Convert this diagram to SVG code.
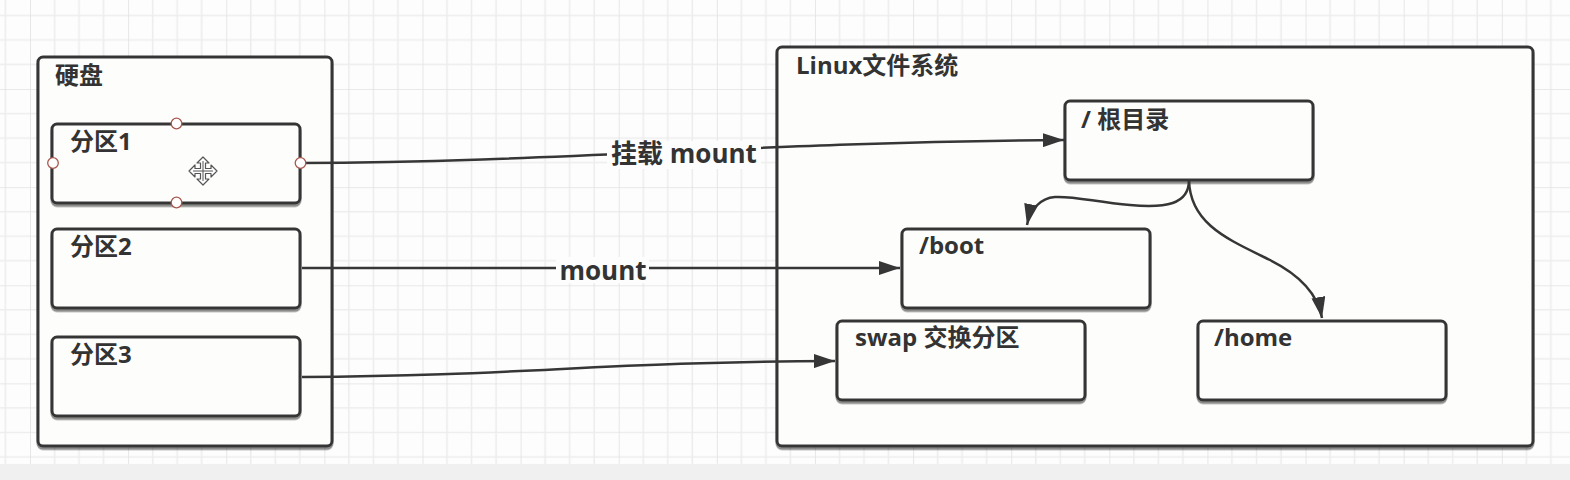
<svg xmlns="http://www.w3.org/2000/svg" width="1570" height="480" viewBox="0 0 1570 480">
<defs>
<style>
.box{fill:#fdfefc;stroke:#363636;stroke-width:3;filter:url(#sh)}
.t{font-family:"Open Sans","Noto Sans CJK SC",sans-serif;font-weight:bold;font-size:24px;fill:#333}
.lbl{font-family:"Open Sans","Noto Sans CJK SC",sans-serif;font-weight:bold;font-size:26px;fill:#333;text-anchor:middle}
.c{fill:none;stroke:#363636;stroke-width:2.5}
.h{fill:#fff;stroke:#a8584f;stroke-width:1.3}
</style>
<filter id="sh" x="-5%" y="-5%" width="110%" height="115%">
<feDropShadow dx="0" dy="2.5" stdDeviation="0.6" flood-color="#000" flood-opacity="0.45"/>
</filter>
<pattern id="grid" x="30" y="-9.1" width="98.12" height="98.12" patternUnits="userSpaceOnUse">
<path d="M24.53,0V98.12M49.06,0V98.12M73.59,0V98.12M0,24.53H98.12M0,49.06H98.12M0,73.59H98.12" stroke="#ededed" stroke-width="1.6" fill="none"/>
<path d="M0,0V98.12M0,0H98.12" stroke="#e2e2e2" stroke-width="1.6" fill="none"/>
</pattern>
<marker id="arr" markerUnits="userSpaceOnUse" viewBox="0 0 21 14" refX="21" refY="7" markerWidth="21" markerHeight="14" orient="auto">
<path d="M0,0L21,7L0,14z" fill="#363636"/>
</marker>
</defs>
<rect width="1570" height="480" fill="#fdfdfd"/>
<rect width="1570" height="464" fill="url(#grid)"/>
<rect y="464" width="1570" height="16" fill="#f0f0f0"/>

<g id="disk">
<rect class="box" x="38" y="57" width="294" height="389" rx="5"/>
<text class="t" x="55" y="84">硬盘</text>
</g>
<g id="linuxfs">
<rect class="box" x="777" y="47" width="756" height="399" rx="5"/>
<text class="t" x="796" y="74">Linux文件系统</text>
</g>
<g id="part1">
<rect class="box" x="52" y="124" width="248" height="79" rx="5"/>
<text class="t" x="70" y="150">分区1</text>
</g>
<g id="part2">
<rect class="box" x="52" y="229" width="248" height="79" rx="5"/>
<text class="t" x="70" y="255">分区2</text>
</g>
<g id="part3">
<rect class="box" x="52" y="337" width="248" height="79" rx="5"/>
<text class="t" x="70" y="363">分区3</text>
</g>
<g id="root">
<rect class="box" x="1065" y="101" width="248" height="79" rx="5"/>
<text class="t" x="1081" y="128">/ 根目录</text>
</g>
<g id="boot">
<rect class="box" x="902" y="229" width="248" height="79" rx="5"/>
<text class="t" x="919" y="254">/boot</text>
</g>
<g id="swap">
<rect class="box" x="837" y="321" width="248" height="79" rx="5"/>
<text class="t" x="855" y="346">swap 交换分区</text>
</g>
<g id="home">
<rect class="box" x="1198" y="321" width="248" height="79" rx="5"/>
<text class="t" x="1214" y="346">/home</text>
</g>

<g id="connectors">
<path class="c" d="M300,163 C560,162 760,142 1064,140" marker-end="url(#arr)"/>
<rect x="607" y="141" width="154" height="28" fill="#fdfdfd"/>
<text class="lbl" x="684" y="163">挂载 mount</text>
<path class="c" d="M302,268 L900,268" marker-end="url(#arr)"/>
<rect x="556" y="257" width="93" height="26" fill="#fdfdfd"/>
<text class="lbl" x="603" y="280">mount</text>
<path class="c" d="M302,377 C520,376 600,362 835,361" marker-end="url(#arr)"/>
<path class="c" d="M1189,180 C1189,205 1165,208 1130,205 C1095,202 1075,196 1055,197 C1040,198 1030,210 1027,225" marker-end="url(#arr)"/>
<path class="c" d="M1189,180 C1190,225 1230,240 1270,260 C1300,275 1318,295 1322,318" marker-end="url(#arr)"/>
</g>

<g id="selection">
<circle class="h" cx="176.5" cy="123.5" r="5.3"/>
<circle class="h" cx="176.5" cy="202.5" r="5.3"/>
<circle class="h" cx="53" cy="163" r="5.3"/>
<circle class="h" cx="300.5" cy="163" r="5.3"/>
<path d="M203,157 L209,163 L205.5,163 L205.5,168.5 L211,168.5 L211,165 L217,171 L211,177 L211,173.5 L205.5,173.5 L205.5,179 L209,179 L203,185 L197,179 L200.5,179 L200.5,173.5 L195,173.5 L195,177 L189,171 L195,165 L195,168.5 L200.5,168.5 L200.5,163 L197,163 Z" fill="#fff" stroke="#555" stroke-width="1.2" stroke-linejoin="round"/>
<path d="M203,161V181M193,171H213" stroke="#555" stroke-width="1"/>
</g>
</svg>
